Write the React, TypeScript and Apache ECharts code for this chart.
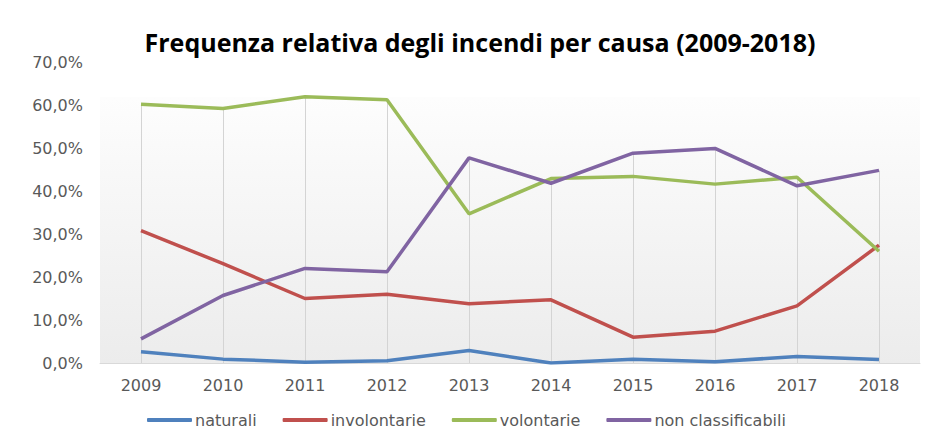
import React, { useEffect, useRef } from "react";
import * as echarts from "echarts";

const years = ["2009", "2010", "2011", "2012", "2013", "2014", "2015", "2016", "2017", "2018"];
const naturali = [2.6, 0.9, 0.2, 0.5, 2.9, 0.0, 0.9, 0.3, 1.5, 0.8];
const involontarie = [30.8, 23.1, 15.0, 16.0, 13.8, 14.7, 6.0, 7.4, 13.3, 27.4];
const volontarie = [60.2, 59.2, 61.9, 61.2, 34.7, 42.9, 43.4, 41.6, 43.2, 26.0];
const nonClassificabili = [5.6, 15.7, 22.0, 21.2, 47.7, 41.8, 48.8, 49.9, 41.2, 44.8];
const seriesNames = ["naturali", "involontarie", "volontarie", "non classificabili"];
const colors = ["#4f81bd", "#c0504d", "#9bbb59", "#8064a2"];
const yTicks = { min: 0, max: 70, interval: 10 };
const title = "Frequenza relativa degli incendi per causa (2009-2018)";

const FONT = "'DejaVu Sans', sans-serif";

export default function App() {
  const ref = useRef<HTMLDivElement>(null);
  useEffect(() => {
    if (!ref.current) return;
    const chart = echarts.init(ref.current, null, { renderer: "svg" });
    const all = [naturali, involontarie, volontarie, nonClassificabili];
    const dropLines = years.map((y, i) => {
      const top = Math.max(...all.map((s) => s[i]));
      return [{ coord: [y, 0] }, { coord: [y, top] }];
    });
    const series: any[] = all.map((data, k) => ({
      name: seriesNames[k],
      type: "line",
      data,
      symbol: "none",
      z: 3,
      lineStyle: { color: colors[k], width: 3.5 },
      itemStyle: { color: colors[k] },
    }));
    series[0].markLine = {
      silent: true,
      symbol: ["none", "none"],
      z: 1,
      label: { show: false },
      lineStyle: { color: "#d4d4d4", width: 1, type: "solid" },
      emphasis: { disabled: true },
      data: dropLines,
    };
    chart.setOption({
      animation: false,
      title: {
        text: title,
        left: 468,
        textAlign: "center",
        top: 17,
        textStyle: { fontFamily: "'Open Sans', sans-serif", fontWeight: "bold", fontSize: 25, color: "#000" },
      },
      graphic: [
        { type: "line", shape: { x1: 0, y1: 0.5, x2: 921, y2: 0.5 }, style: { stroke: "#d9d9d9", lineWidth: 1 } },
        { type: "line", shape: { x1: 0.5, y1: 0, x2: 0.5, y2: 430 }, style: { stroke: "#d9d9d9", lineWidth: 1 } },
      ],
      legend: {
        left: 135,
        top: 400,
        icon: "roundRect",
        itemWidth: 45,
        itemHeight: 4,
        itemGap: 26,
        textStyle: { fontFamily: FONT, fontSize: 16, color: "#595959", padding: [0, 0, 0, -2] },
        data: seriesNames,
      },
      grid: {
        left: 93,
        right: 8,
        top: 55,
        bottom: 74,
        show: true,
        borderWidth: 0,
        backgroundColor: {
          type: "linear",
          x: 0,
          y: 0,
          x2: 0,
          y2: 1,
          colorStops: [
            { offset: 0, color: "#ffffff" },
            { offset: 0.115, color: "#ffffff" },
            { offset: 0.117, color: "#fdfdfd" },
            { offset: 1, color: "#ececec" },
          ],
        },
      },
      xAxis: {
        type: "category",
        data: years,
        boundaryGap: true,
        axisLine: { show: true, lineStyle: { color: "#d9d9d9", width: 1 } },
        axisTick: { show: false },
        splitLine: { show: false },
        axisLabel: { fontFamily: FONT, fontSize: 16, color: "#595959", margin: 14 },
      },
      yAxis: {
        type: "value",
        min: yTicks.min,
        max: yTicks.max,
        interval: yTicks.interval,
        axisLine: { show: false },
        axisTick: { show: false },
        splitLine: { show: false },
        axisLabel: {
          fontFamily: FONT,
          fontSize: 16,
          color: "#595959",
          margin: 17,
          formatter: (v: number) => v.toFixed(1).replace(".", ",") + "%",
        },
      },
      series,
    });
    return () => chart.dispose();
  }, []);
  return <div ref={ref} style={{ width: 921, height: 430, margin: "-1px 0 0 -1px" }} />;
}
